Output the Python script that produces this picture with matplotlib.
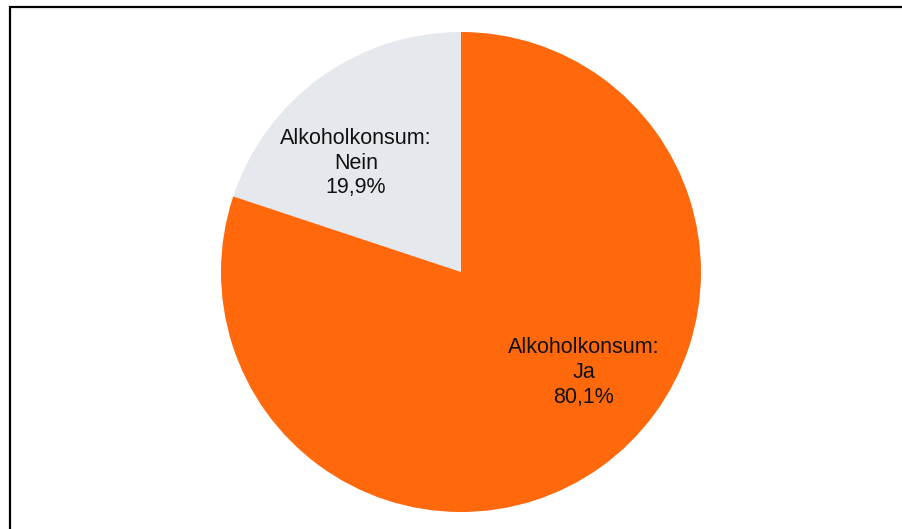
import matplotlib.pyplot as plt
from matplotlib.patches import Rectangle

plt.rcParams['font.family'] = ['Liberation Sans', 'DejaVu Sans']

labels = ['Alkoholkonsum:\nNein', 'Alkoholkonsum:\nJa']
anteile = [19.9, 80.1]
farben = ['#E5E9ED', '#FF690C']
label_pos = [(-0.4375, 0.454), (0.5125, -0.42)]

W, H = 902, 529
fig = plt.figure(figsize=(W / 100, H / 100), dpi=100)

# Rahmen um die Grafik (rechts/unten abgeschnitten)
fig.patches.append(Rectangle((9.5 / W, -0.1), 1.2, 1 - 7 / H + 0.1,
                             transform=fig.transFigure, fill=False,
                             edgecolor='black', linewidth=1.6))

cx, cy, r = 461, 272, 240
ax = fig.add_axes([(cx - r) / W, (H - cy - r) / H, 2 * r / W, 2 * r / H])
ax.pie(anteile, colors=farben, startangle=90, counterclock=True,
       wedgeprops=dict(linewidth=0))
ax.set_xlim(-1, 1)
ax.set_ylim(-1, 1)
ax.set_aspect('equal')
ax.axis('off')

for lab, wert, (x, y) in zip(labels, anteile, label_pos):
    txt = f"{lab}\n{wert:.1f}%".replace('.', ',')
    ax.text(x, y, txt, ha='center', va='center', fontsize=15.5,
            linespacing=1.24, color='#111111')

fig.savefig('out.png', dpi=100)
